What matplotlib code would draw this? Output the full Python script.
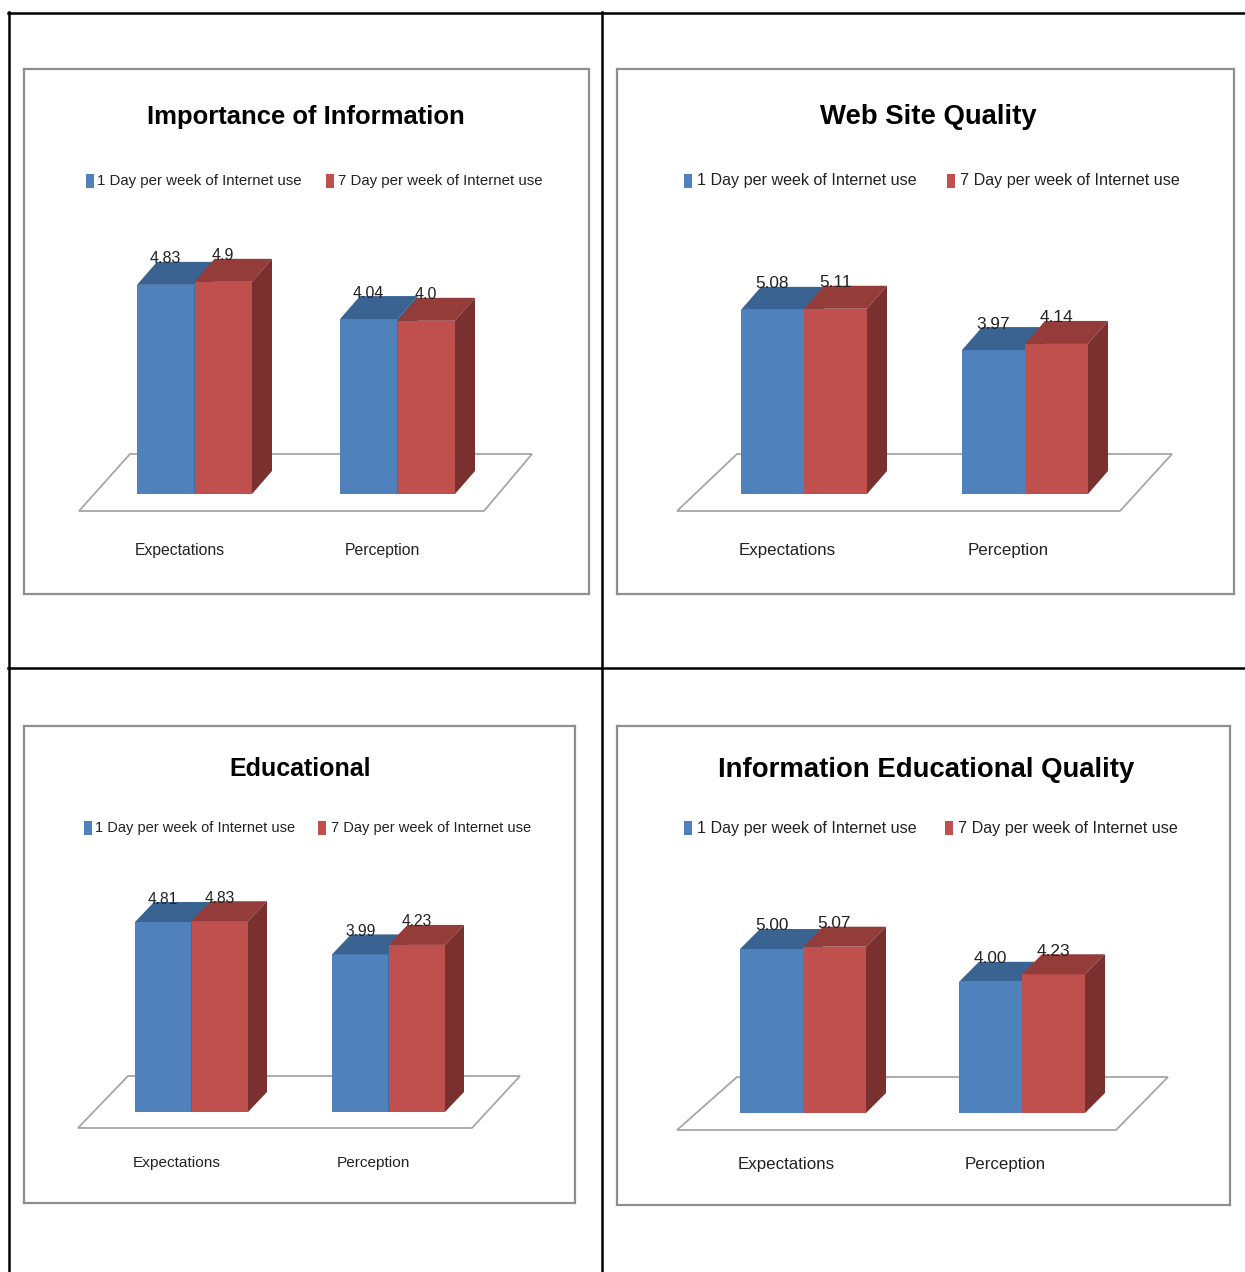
import matplotlib.pyplot as plt
from matplotlib.patches import Polygon, Rectangle

plt.rcParams['font.family'] = ['Liberation Sans', 'DejaVu Sans']

categories = ["Expectations", "Perception"]
series_names = ["1 Day per week of Internet use", "7 Day per week of Internet use"]
titles = ["Importance of Information", "Web Site Quality", "Educational",
          "Information Educational Quality"]

# value labels as printed on the columns
importance_1day = ["4.83", "4.04"]
importance_7day = ["4.9", "4.0"]
website_1day = ["5.08", "3.97"]
website_7day = ["5.11", "4.14"]
educational_1day = ["4.81", "3.99"]
educational_7day = ["4.83", "4.23"]
infoedu_1day = ["5.00", "4.00"]
infoedu_7day = ["5.07", "4.23"]

panel_data = [
    (importance_1day, importance_7day),
    (website_1day, website_7day),
    (educational_1day, educational_7day),
    (infoedu_1day, infoedu_7day),
]

# pixel layout of each chart box
layouts = [
    dict(box=(24, 69, 589, 594), base=494, scale=43.3, lefts=(137, 340), w=57.5, dx=20, dy=23,
         floor=[(130, 454), (532, 454), (484, 511), (79, 511)], title=(306, 117),
         leg=((86, 97), (326, 338)), leg_y=181, cat_y=550, shift=-15, fs=0.93),
    dict(box=(617, 69, 1234, 594), base=494, scale=36.25, lefts=(741, 962), w=63, dx=20, dy=23,
         floor=[(737, 454), (1172, 454), (1120, 511), (677, 511)], title=(928, 117),
         leg=((684, 697), (947, 960)), leg_y=181, cat_y=550, shift=-17, fs=1.0),
    dict(box=(24, 726, 575, 1203), base=1112, scale=39.5, lefts=(135, 332), w=56.5, dx=19, dy=20,
         floor=[(128, 1076), (520, 1076), (472, 1128), (78, 1128)], title=(300, 769),
         leg=((84, 95), (318, 331)), leg_y=828, cat_y=1163, shift=-15, fs=0.91),
    dict(box=(617, 726, 1230, 1205), base=1113, scale=32.8, lefts=(740, 959), w=63, dx=20, dy=20,
         floor=[(737, 1077), (1168, 1077), (1116, 1130), (677, 1130)], title=(926, 770),
         leg=((684, 697), (945, 958)), leg_y=828, cat_y=1165, shift=-17, fs=1.0),
]

BLUE = dict(front='#4F81BD', top='#3B6391', side='#36597F')
RED = dict(front='#C0504D', top='#933C3A', side='#7A302E')
TEXT = '#222222'

W, H = 1245, 1272
fig = plt.figure(figsize=(W / 100, H / 100), dpi=100)


def draw_bar(ax, x, w, v, dx, dy, c):
    # front face, top and right side of one 3-D column
    ax.add_patch(Rectangle((x, 0), w, v, fc=c['front'], ec='none', zorder=3))
    ax.add_patch(Polygon([(x, v), (x + w, v), (x + w + dx, v + dy), (x + dx, v + dy)],
                         fc=c['top'], ec='none', zorder=3))
    ax.add_patch(Polygon([(x + w, 0), (x + w + dx, dy), (x + w + dx, v + dy), (x + w, v)],
                         fc=c['side'], ec='none', zorder=3))


for (s1, s2), title, L in zip(panel_data, titles, layouts):
    x0, y0, x1, y1 = L['box']
    base, scale, fs = L['base'], L['scale'], L['fs']

    def val(py):
        return (base - py) / scale

    ax = fig.add_axes([x0 / W, 1 - y1 / H, (x1 - x0) / W, (y1 - y0) / H])
    ax.set_xlim(x0, x1)
    ax.set_ylim(val(y1), val(y0))
    ax.set_xticks([])
    ax.set_yticks([])
    for sp in ax.spines.values():
        sp.set_color('#8E8E8E')
        sp.set_linewidth(1.6)

    # floor of the 3-D plot area
    ax.add_patch(Polygon([(px, val(py)) for px, py in L['floor']], closed=True,
                         fc='white', ec='#A6A6A6', lw=1.3, zorder=1))

    dy = L['dy'] / scale
    w = L['w']
    for i, cat in enumerate(categories):
        left = L['lefts'][i]
        for j, (vals, col) in enumerate(((s1, BLUE), (s2, RED))):
            v = float(vals[i])
            bx = left + j * w
            draw_bar(ax, bx, w, v, L['dx'], dy, col)
            ax.text(bx + w / 2, v + dy + 3 / scale, vals[i], ha='center', va='center',
                    fontsize=12.4 * fs, color=TEXT, zorder=4)
        ax.text(left + w + L['shift'], val(L['cat_y']), cat, ha='center', va='center',
                fontsize=12.2 * fs, color=TEXT)

    ax.text(L['title'][0], val(L['title'][1]), title, ha='center', va='center',
            fontsize=19.8 * fs, fontweight='bold', color='black')

    for (mx, tx), name, col in zip(L['leg'], series_names, (BLUE, RED)):
        ax.add_patch(Rectangle((mx, val(L['leg_y'] + 7)), 8, 14 / scale,
                               fc=col['front'], ec='none'))
        ax.text(tx, val(L['leg_y']), name, ha='left', va='center',
                fontsize=11.6 * fs, color=TEXT)

# table grid around the four charts
grid = fig.add_axes([0, 0, 1, 1], zorder=-1)
grid.set_xlim(0, W)
grid.set_ylim(H, 0)
grid.axis('off')
grid.plot([9, 9], [12, H], color='black', lw=1.8)
grid.plot([602, 602], [12, H], color='black', lw=1.8)
grid.plot([8, W], [13, 13], color='black', lw=1.8)
grid.plot([8, W], [668, 668], color='black', lw=1.8)

fig.savefig('out.png', dpi=100)
